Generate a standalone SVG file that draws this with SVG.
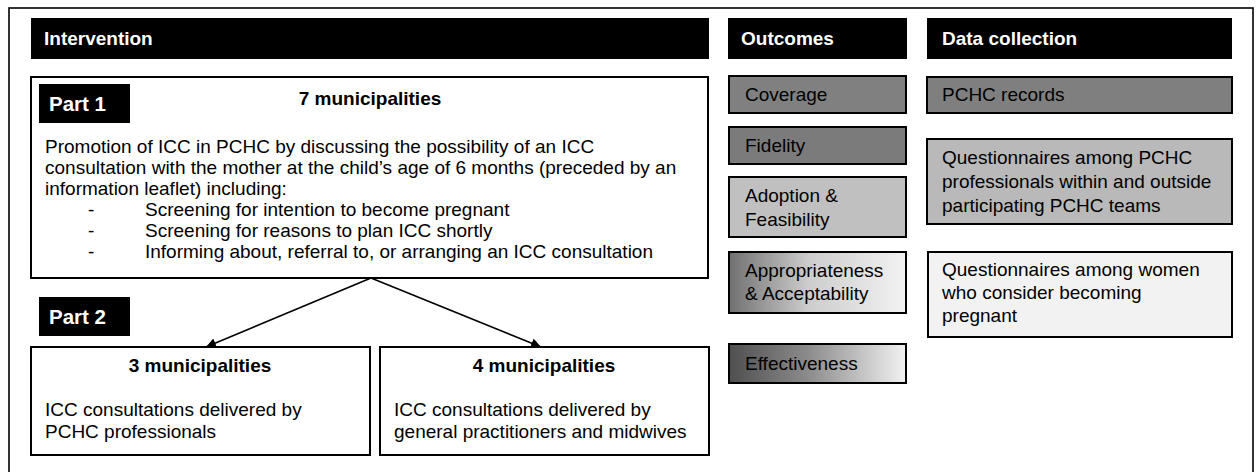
<svg xmlns="http://www.w3.org/2000/svg" width="1257" height="472" viewBox="0 0 1257 472">
<style>
text{font-family:"Liberation Sans",Arial,sans-serif;font-size:19px;fill:#000}
.hd{fill:#000}
.ht{fill:#fff;font-weight:bold}
.pt{font-size:20.5px}
.b{font-weight:bold}
.box{stroke:#000;stroke-width:2}
.conn{stroke:#000;stroke-width:1.6;fill:none}
</style>
<defs>
<linearGradient id="gA" x1="0" y1="0" x2="1" y2="0">
<stop offset="0" stop-color="#707070"/><stop offset="0.45" stop-color="#cdcdcd"/><stop offset="1" stop-color="#f2f2f2"/>
</linearGradient>
<linearGradient id="gE" x1="0" y1="0" x2="1" y2="0">
<stop offset="0" stop-color="#4f4f4f"/><stop offset="0.45" stop-color="#8c8c8c"/><stop offset="1" stop-color="#f2f2f2"/>
</linearGradient>
<marker id="ah" viewBox="0 0 10 10" refX="10" refY="5" markerWidth="10" markerHeight="10" markerUnits="userSpaceOnUse" orient="auto">
<path d="M0,0 L10,5 L0,10 z" fill="#000"/>
</marker>
</defs>
<rect x="9" y="8" width="1244" height="475" fill="#fff" stroke="#000" stroke-width="1.6"/>

<g id="hdr-intervention"><rect class="hd" x="31" y="18" width="678" height="41"/><text class="ht" x="44" y="45">Intervention</text></g>
<g id="hdr-outcomes"><rect class="hd" x="728" y="18" width="179" height="41"/><text class="ht" x="741" y="45">Outcomes</text></g>
<g id="hdr-data"><rect class="hd" x="927" y="18" width="305" height="41"/><text class="ht" x="942" y="45">Data collection</text></g>

<g id="part1">
<rect class="box" x="31" y="77" width="677" height="201" fill="#fff"/>
<rect class="hd" x="39" y="84" width="91" height="39"/><text class="ht pt" x="49" y="111">Part 1</text>
<text class="b" x="370" y="105" text-anchor="middle">7 municipalities</text>
<text x="45" y="153">Promotion of ICC in PCHC by discussing the possibility of an ICC</text>
<text x="45" y="174">consultation with the mother at the child’s age of 6 months (preceded by an</text>
<text x="45" y="195">information leaflet) including:</text>
<text x="88" y="216">-</text><text x="145" y="216">Screening for intention to become pregnant</text>
<text x="88" y="237">-</text><text x="145" y="237">Screening for reasons to plan ICC shortly</text>
<text x="88" y="258">-</text><text x="145" y="258">Informing about, referral to, or arranging an ICC consultation</text>
</g>

<g id="part2-label"><rect class="hd" x="39" y="297" width="91" height="39"/><text class="ht pt" x="49" y="324">Part 2</text></g>

<g id="muni3">
<rect class="box" x="31" y="347" width="339" height="108" fill="#fff"/>
<text class="b" x="200" y="372" text-anchor="middle">3 municipalities</text>
<text x="45" y="416">ICC consultations delivered by</text>
<text x="45" y="438">PCHC professionals</text>
</g>
<g id="muni4">
<rect class="box" x="380" y="347" width="329" height="108" fill="#fff"/>
<text class="b" x="544" y="372" text-anchor="middle">4 municipalities</text>
<text x="394" y="416">ICC consultations delivered by</text>
<text x="394" y="438">general practitioners and midwives</text>
</g>

<g id="connectors">
<line class="conn" x1="371" y1="278" x2="206" y2="347" marker-end="url(#ah)"/>
<line class="conn" x1="371" y1="278" x2="541" y2="347" marker-end="url(#ah)"/>
</g>

<g id="o-coverage"><rect class="box" x="729" y="76" width="177" height="37" fill="#808080"/><text x="745" y="101">Coverage</text></g>
<g id="o-fidelity"><rect class="box" x="729" y="127" width="177" height="37" fill="#7b7b7b"/><text x="745" y="152">Fidelity</text></g>
<g id="o-adoption"><rect class="box" x="729" y="177" width="177" height="60" fill="#c0c0c0"/><text x="745" y="202">Adoption &amp;</text><text x="745" y="226">Feasibility</text></g>
<g id="o-appropriateness"><rect class="box" x="729" y="252" width="177" height="61" fill="url(#gA)"/><text x="745" y="277">Appropriateness</text><text x="745" y="300">&amp; Acceptability</text></g>
<g id="o-effectiveness"><rect class="box" x="729" y="344" width="177" height="39" fill="url(#gE)"/><text x="745" y="370">Effectiveness</text></g>

<g id="d-records"><rect class="box" x="927" y="77" width="305" height="36" fill="#7f7f7f"/><text x="942" y="101">PCHC records</text></g>
<g id="d-q1"><rect class="box" x="927" y="139" width="305" height="85" fill="#b9b9b9"/><text x="942" y="164">Questionnaires among PCHC</text><text x="942" y="188">professionals within and outside</text><text x="942" y="212">participating PCHC teams</text></g>
<g id="d-q2"><rect class="box" x="928" y="252" width="304" height="85" fill="#f2f2f2"/><text x="942" y="276">Questionnaires among women</text><text x="942" y="299">who consider becoming</text><text x="942" y="322">pregnant</text></g>
</svg>
